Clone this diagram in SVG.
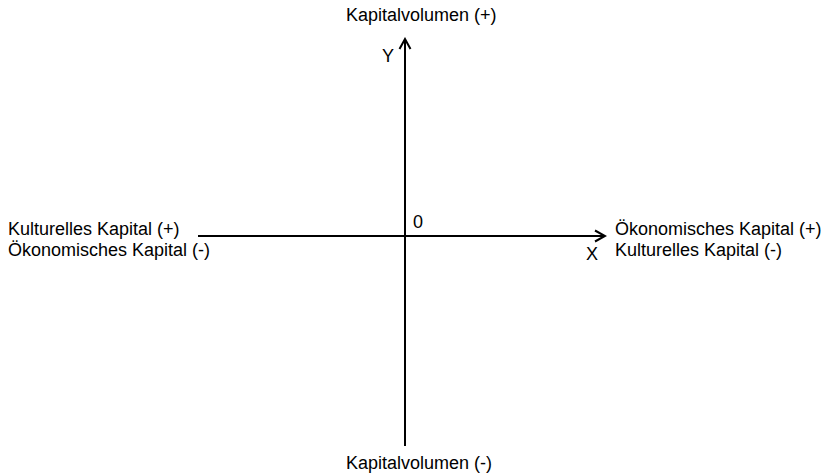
<svg xmlns="http://www.w3.org/2000/svg" width="828" height="475" viewBox="0 0 828 475">
  <style>
    text { font-family: "Liberation Sans", Arial, sans-serif; font-size: 18px; fill: #000; }
    .axis { stroke: #000; stroke-width: 2; fill: none; }
  </style>
  <defs>
    <marker id="arr" markerUnits="userSpaceOnUse" markerWidth="14" markerHeight="14" viewBox="-12 -7 14 14" refX="0" refY="0" orient="auto">
      <path d="M-10,-5.5 L0,0 L-10,5.5" fill="none" stroke="#000" stroke-width="2"/>
    </marker>
  </defs>
  <rect width="828" height="475" fill="#fff"/>
  <g id="connectors">
    <line class="axis" x1="405" y1="446" x2="405" y2="39" marker-end="url(#arr)"/>
    <line class="axis" x1="198" y1="236" x2="605" y2="236" marker-end="url(#arr)"/>
  </g>
  <g id="top-label"><text x="346" y="21">Kapitalvolumen (+)</text></g>
  <g id="bottom-label"><text x="346" y="469">Kapitalvolumen (-)</text></g>
  <g id="y-label"><text x="382" y="62">Y</text></g>
  <g id="x-label"><text x="586" y="260">X</text></g>
  <g id="origin-label"><text x="413" y="228">0</text></g>
  <g id="left-label">
    <text x="8" y="235">Kulturelles Kapital (+)</text>
    <text x="8" y="256">Ökonomisches Kapital (-)</text>
  </g>
  <g id="right-label">
    <text x="615" y="235">Ökonomisches Kapital (+)</text>
    <text x="615" y="256">Kulturelles Kapital (-)</text>
  </g>
</svg>
